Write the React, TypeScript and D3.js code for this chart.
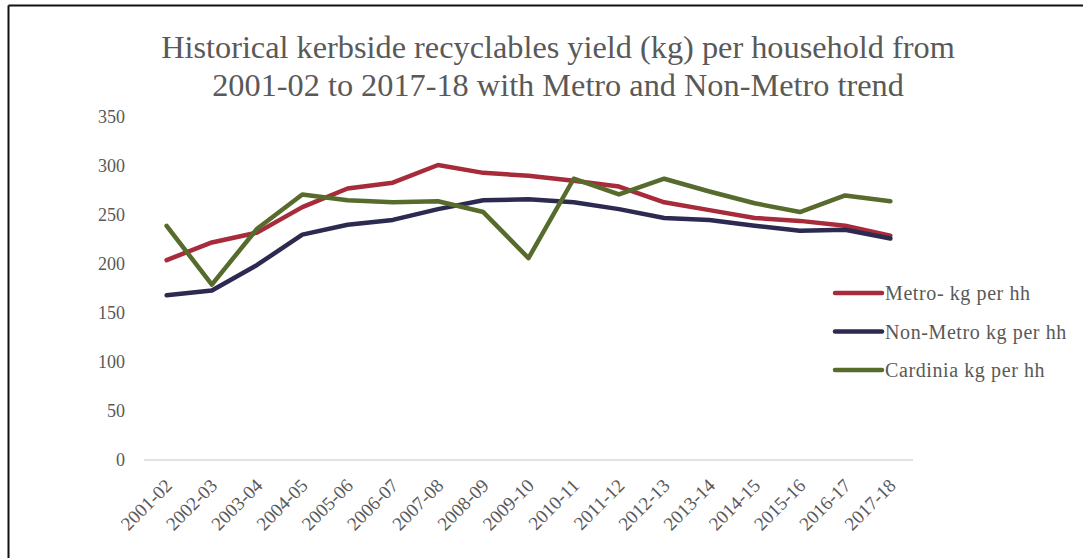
import React from "react";
import * as d3 from "d3";

const categories = ["2001-02","2002-03","2003-04","2004-05","2005-06","2006-07","2007-08","2008-09","2009-10","2010-11","2011-12","2012-13","2013-14","2014-15","2015-16","2016-17","2017-18"];
const metro = [204, 222, 232, 258, 277, 283, 301, 293, 290, 285, 279, 263, 255, 247, 244, 239, 229];
const nonMetro = [168, 173, 199, 230, 240, 245, 256, 265, 266, 263, 256, 247, 245, 239, 234, 235, 226];
const cardinia = [239, 179, 236, 271, 265, 263, 264, 253, 206, 287, 271, 287, 274, 262, 253, 270, 264];
const yTicks = [0, 50, 100, 150, 200, 250, 300, 350];
const seriesNames = ["Metro- kg per hh", "Non-Metro kg per hh", "Cardinia kg per hh"];
const titleLines = ["Historical kerbside recyclables yield (kg) per household from", "2001-02 to 2017-18 with Metro and Non-Metro trend"];

const colors = ["#A72B3B", "#2C2A50", "#566B2C"];
const FONT = "Liberation Serif";
const TEXT = "#595959";
const fontStyle = { fontFamily: FONT };

export default function App() {
  const W = 1083, H = 558;
  const x = d3.scaleBand<string>().domain(categories).range([144, 913]);
  const y = d3.scaleLinear().domain([0, 350]).range([460, 117]);
  const line = d3.line<number>()
    .x((_, i) => (x(categories[i]) as number) + x.bandwidth() / 2)
    .y(d => y(d));
  const series = [metro, nonMetro, cardinia];

  return (
    <svg width={W} height={H} style={{ position: "absolute", left: 0, top: 0, background: "#fff" }}>
      <rect x={0} y={0} width={W} height={H} fill="#fff" />
      <line x1={8.5} y1={5.5} x2={W} y2={5.5} stroke="#111" strokeWidth={2} />
      <line x1={8.5} y1={5.5} x2={8.5} y2={H} stroke="#111" strokeWidth={2} />
      {titleLines.map((t, i) => (
        <text key={i} x={558} y={58 + i * 38} textAnchor="middle" fontSize={32.3} fill={TEXT} style={fontStyle}>{t}</text>
      ))}
      {yTicks.map(t => (
        <text key={t} x={125} y={y(t)} dy="0.35em" textAnchor="end" fontSize={18} fill={TEXT} style={fontStyle}>{t}</text>
      ))}
      <line x1={144} x2={913} y1={y(0)} y2={y(0)} stroke="#d9d9d9" strokeWidth={1.5} />
      {categories.map(c => {
        const cx = (x(c) as number) + x.bandwidth() / 2;
        return (
          <text key={c} transform={`translate(${cx + 2},${y(0) + 22}) rotate(-45)`} textAnchor="end" dy="0.35em" fontSize={19} fill={TEXT} style={fontStyle}>{c}</text>
        );
      })}
      {series.map((s, i) => (
        <path key={i} d={line(s) as string} fill="none" stroke={colors[i]} strokeWidth={4.5} strokeLinejoin="round" strokeLinecap="round" />
      ))}
      {seriesNames.map((n, i) => (
        <g key={n} transform={`translate(0,${293 + i * 38.5})`}>
          <line x1={835} x2={882} y1={0} y2={0} stroke={colors[i]} strokeWidth={4.5} strokeLinecap="round" />
          <text x={885} y={0} dy="0.35em" fontSize={20} letterSpacing={0.6} fill={TEXT} style={fontStyle}>{n}</text>
        </g>
      ))}
    </svg>
  );
}
